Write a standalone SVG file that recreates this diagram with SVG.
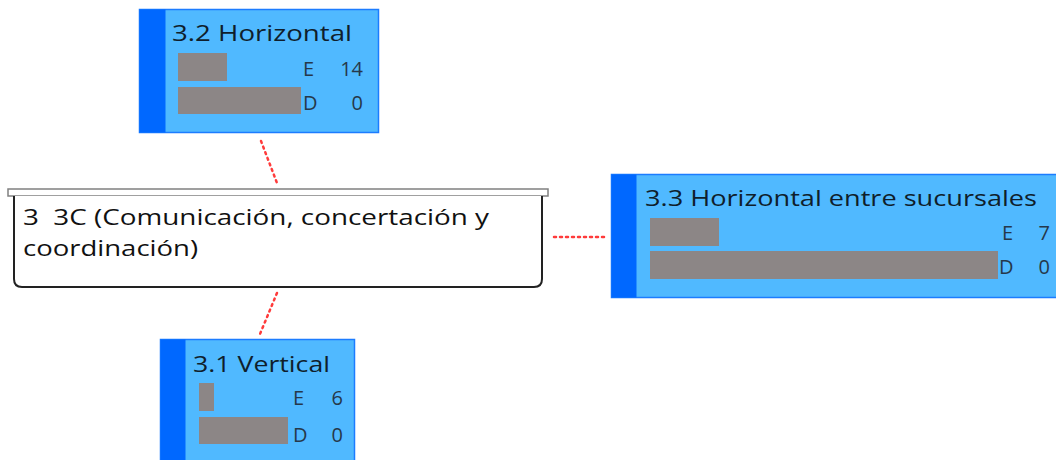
<svg xmlns="http://www.w3.org/2000/svg" width="1056" height="460" viewBox="0 0 1056 460">
<style>
.card{fill:#50b9ff;stroke:#1c7cff;stroke-width:1.5}
.bar{fill:#0068ff}
.gray{fill:#8c8686}
.title{font-family:"Open Sans","Noto Sans",sans-serif;font-size:22px;fill:#0f1e2c}
.ed{font-family:"Open Sans","Noto Sans",sans-serif;font-size:20px;fill:#26384a}
.main{font-family:"Open Sans","Noto Sans",sans-serif;font-size:21px;fill:#111111;white-space:pre}
.conn{stroke:#ff3b3b;stroke-width:2.5;stroke-dasharray:2 4;fill:none;stroke-linecap:round}
</style>
<rect width="1056" height="460" fill="#ffffff"/>
<g id="connectors">
<line class="conn" x1="261" y1="141" x2="277" y2="183"/>
<line class="conn" x1="554" y1="237" x2="608" y2="237"/>
<line class="conn" x1="277" y1="293" x2="260" y2="334"/>
</g>
<g id="node-3">
<rect x="8" y="189" width="540" height="7" fill="#ffffff" stroke="#808080" stroke-width="1.5"/>
<path d="M14 196 V279 Q14 287 22 287 H534 Q542 287 542 279 V196" fill="#ffffff" stroke="#222222" stroke-width="2"/>
<text class="main" x="23" y="225" textLength="466" lengthAdjust="spacingAndGlyphs" xml:space="preserve">3  3C (Comunicación, concertación y</text>
<text class="main" x="23" y="256" textLength="175" lengthAdjust="spacingAndGlyphs">coordinación)</text>
</g>
<g id="node-3-2">
<rect class="card" x="139.5" y="9.5" width="239" height="123"/>
<rect class="bar" x="139.5" y="9.5" width="26" height="123"/>
<text class="title" x="172" y="41" textLength="180" lengthAdjust="spacingAndGlyphs">3.2 Horizontal</text>
<rect class="gray" x="178" y="53" width="49" height="28"/>
<rect class="gray" x="178" y="87" width="123" height="27"/>
<text class="ed" x="303" y="76">E</text>
<text class="ed" x="363" y="76" text-anchor="end">14</text>
<text class="ed" x="303" y="110">D</text>
<text class="ed" x="363" y="110" text-anchor="end">0</text>
</g>
<g id="node-3-3">
<rect class="card" x="611.5" y="174.5" width="460" height="123"/>
<rect class="bar" x="611.5" y="174.5" width="25" height="123"/>
<text class="title" x="645" y="206" textLength="392" lengthAdjust="spacingAndGlyphs">3.3 Horizontal entre sucursales</text>
<rect class="gray" x="650" y="218" width="69" height="28"/>
<rect class="gray" x="650" y="251" width="348" height="28"/>
<text class="ed" x="1002" y="240">E</text>
<text class="ed" x="1050" y="240" text-anchor="end">7</text>
<text class="ed" x="999" y="274">D</text>
<text class="ed" x="1050" y="274" text-anchor="end">0</text>
</g>
<g id="node-3-1">
<rect class="card" x="160.5" y="339.5" width="194" height="130"/>
<rect class="bar" x="160.5" y="339.5" width="25" height="130"/>
<text class="title" x="193" y="372" textLength="137" lengthAdjust="spacingAndGlyphs">3.1 Vertical</text>
<rect class="gray" x="199" y="383" width="15" height="28"/>
<rect class="gray" x="199" y="417" width="89" height="27"/>
<text class="ed" x="293" y="405">E</text>
<text class="ed" x="343" y="405" text-anchor="end">6</text>
<text class="ed" x="293" y="442">D</text>
<text class="ed" x="343" y="442" text-anchor="end">0</text>
</g>
</svg>
